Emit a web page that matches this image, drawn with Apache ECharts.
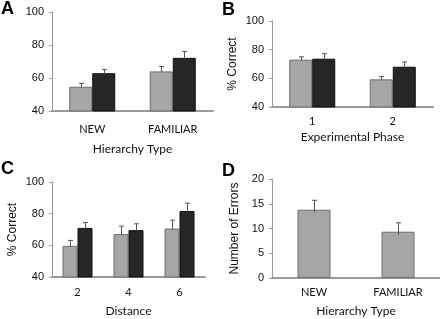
<!DOCTYPE html>
<html>
<head>
<meta charset="utf-8">
<script src="https://cdn.jsdelivr.net/npm/echarts@6/dist/echarts.min.js"></script>
<style>
  html, body { margin: 0; padding: 0; background: #fff; }
  #chart { width: 440px; height: 319px; }
</style>
</head>
<body>
<div id="chart"></div>
<script>
// panel A
var catsA = ['NEW', 'FAMILIAR'];
var grayA = [54.7, 64.0];
var blackA = [62.9, 72.2];
var grayErrA = [2.0, 3.0];
var blackErrA = [2.3, 3.8];

// panel B
var catsB = ['1', '2'];
var grayB = [73.0, 59.3];
var blackB = [73.7, 68.1];
var grayErrB = [2.0, 1.9];
var blackErrB = [3.5, 3.3];

// panel C
var catsC = ['2', '4', '6'];
var grayC = [59.7, 67.1, 70.6];
var blackC = [71.0, 69.6, 81.7];
var grayErrC = [3.4, 5.0, 5.3];
var blackErrC = [3.4, 4.0, 4.9];

// panel D
var catsD = ['NEW', 'FAMILIAR'];
var errorsD = [13.8, 9.35];
var errD = [1.9, 1.8];

var GRAY = '#a6a6a6';
var BLACK = '#262626';
var AXIS = '#9a9a9a';
var labelFont = 'Lato, "Open Sans", sans-serif';
var arial = '"Liberation Sans", Arial, sans-serif';

var chart = echarts.init(document.getElementById('chart'));

function xAx(idx, cats, name, margin, gap) {
  return {
    type: 'category', gridIndex: idx, data: cats,
    axisTick: { show: false },
    axisLine: { lineStyle: { color: AXIS, width: 2 } },
    axisLabel: { color: '#111', fontSize: 11, fontFamily: labelFont, margin: margin },
    name: name, nameLocation: 'middle', nameGap: gap,
    nameTextStyle: { color: '#111', fontSize: 12, fontFamily: labelFont }
  };
}

function yAx(idx, min, max, step, name, gap) {
  return {
    type: 'value', gridIndex: idx, min: min, max: max, interval: step,
    splitLine: { show: false },
    axisLine: { show: true, lineStyle: { color: AXIS, width: 1 } },
    axisTick: { show: true, length: 3, lineStyle: { color: AXIS } },
    axisLabel: { color: '#111', fontSize: 11, fontFamily: arial, margin: 8 },
    name: name, nameLocation: 'middle', nameGap: gap, nameRotate: 90,
    nameTextStyle: { color: '#111', fontSize: 12, fontFamily: arial }
  };
}

function bar(idx, vals, color, border, width) {
  return {
    type: 'bar', xAxisIndex: idx, yAxisIndex: idx, data: vals,
    barWidth: width, barGap: '0%',
    itemStyle: { color: color, borderColor: border, borderWidth: 1 },
    silent: true
  };
}

function errBar(idx, vals, errs, shift) {
  var pts = vals.map(function (v, i) { return [i, v, errs[i]]; });
  return {
    type: 'custom', xAxisIndex: idx, yAxisIndex: idx, data: pts, z: 5, silent: true,
    renderItem: function (params, api) {
      var lo = api.coord([api.value(0), api.value(1) - 0.6]);
      var hi = api.coord([api.value(0), api.value(1) + api.value(2)]);
      var x = Math.round(lo[0] + shift) + 0.5;
      var st = { stroke: '#555', lineWidth: 1 };
      return {
        type: 'group',
        children: [
          { type: 'line', shape: { x1: x, y1: lo[1], x2: x, y2: hi[1] }, style: st },
          { type: 'line', shape: { x1: x - 2.5, y1: hi[1], x2: x + 2.5, y2: hi[1] }, style: st }
        ]
      };
    }
  };
}

function letter(ch, x, y) {
  return {
    type: 'text', left: x, top: y,
    style: { text: ch, fontSize: 18, fontWeight: 'bold', fontFamily: arial, fill: '#000' }
  };
}

chart.setOption({
  animation: false,
  grid: [
    { left: 52, top: 12, width: 161, height: 99 },
    { left: 272, top: 21, width: 161, height: 86 },
    { left: 52, top: 182, width: 153, height: 95 },
    { left: 272, top: 179, width: 168, height: 99 }
  ],
  xAxis: [
    xAx(0, catsA, 'Hierarchy Type', 13, 32),
    xAx(1, catsB, 'Experimental Phase', 9, 24),
    xAx(2, catsC, 'Distance', 10, 28),
    xAx(3, catsD, 'Hierarchy Type', 9, 27)
  ],
  yAxis: [
    yAx(0, 40, 100, 20, '', 30),
    yAx(1, 40, 100, 20, '% Correct', 33),
    yAx(2, 40, 100, 20, '% Correct', 33),
    yAx(3, 0, 20, 5, 'Number of Errors', 31)
  ],
  graphic: [
    letter('A', 1, 0),
    letter('B', 222, 1),
    letter('C', 1, 160),
    letter('D', 222, 162)
  ],
  series: [
    bar(0, grayA, GRAY, '#6e6e6e', 23),
    bar(0, blackA, BLACK, '#111', 23),
    errBar(0, grayA, grayErrA, -11.5),
    errBar(0, blackA, blackErrA, 11.5),
    bar(1, grayB, GRAY, '#6e6e6e', 23),
    bar(1, blackB, BLACK, '#111', 23),
    errBar(1, grayB, grayErrB, -11.5),
    errBar(1, blackB, blackErrB, 11.5),
    bar(2, grayC, GRAY, '#6e6e6e', 15),
    bar(2, blackC, BLACK, '#111', 15),
    errBar(2, grayC, grayErrC, -7.5),
    errBar(2, blackC, blackErrC, 7.5),
    bar(3, errorsD, GRAY, '#6e6e6e', 33),
    errBar(3, errorsD, errD, 0)
  ]
});
</script>
</body>
</html>
